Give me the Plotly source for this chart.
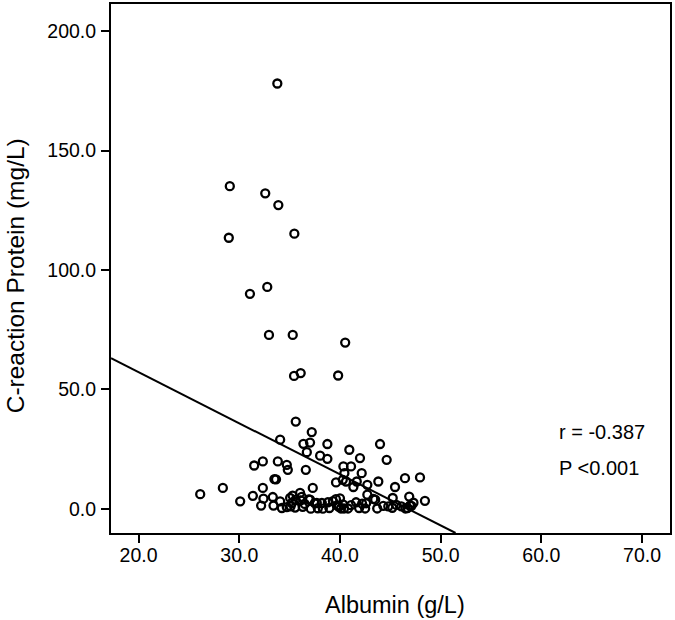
import plotly.graph_objects as go

# Scatter data: Albumin (g/L) vs C-reaction Protein (mg/L)
albumin = [
    33.78, 29.06, 32.58, 33.88, 28.96, 35.47, 31.06, 32.78, 32.95, 35.31, 40.52, 35.44, 36.1, 39.82,
    35.61, 37.2, 34.06, 36.37, 37.03, 36.71, 38.75, 38.03, 38.75, 40.93, 41.99, 43.98, 44.64,
    31.48, 32.34, 33.83, 34.72, 34.82, 36.61,
    40.34, 41.1, 40.44, 42.16, 40.28, 39.61, 40.6, 41.67, 41.33, 42.72, 43.81, 46.46, 47.95, 45.47,
    33.49, 33.65,
    26.12, 28.37, 30.09, 31.35, 32.34, 32.4, 32.17, 33.33, 34.06, 33.4, 34.23, 35.05, 35.22, 36.04,
    36.1, 37.3, 37.03, 37.7, 34.72, 35.55,
    42.72, 43.31, 45.24, 46.88, 48.44, 46.95,
    35.1, 35.6, 36.5, 36.9, 37.1, 37.5, 37.8, 38.2, 38.3, 38.8, 38.95, 39.3, 39.7, 40.0, 40.1, 40.4,
    40.8, 41.1, 41.6, 41.9, 42.2, 42.5, 42.6, 43.5, 43.7, 44.8, 45.2, 45.6, 46.1, 46.5, 46.7, 47.1,
    47.3, 39.6, 39.9, 40.3, 36.3, 44.3, 36.2, 35.3,
]
crp = [
    178.1, 135.1, 132.1, 127.2, 113.5, 115.2, 90.0, 92.9, 72.8, 72.8, 69.6, 55.6, 56.8, 55.8,
    36.5, 32.1, 28.9, 27.2, 27.7, 23.7, 27.1, 22.2, 20.9, 24.7, 21.2, 27.1, 20.5,
    18.1, 19.8, 19.8, 18.4, 16.3, 16.3,
    17.7, 17.7, 14.9, 14.9, 12.1, 11.0, 11.4, 11.4, 9.1, 10.0, 11.4, 12.8, 13.1, 9.1,
    12.4, 12.3,
    6.1, 8.7, 3.1, 5.4, 8.7, 4.2, 1.3, 4.9, 3.1, 1.3, 0.3, 4.5, 2.4, 6.6,
    3.5, 8.7, 3.8, 2.4, 0.7, 0.5,
    5.9, 4.1, 4.5, 5.1, 3.3, 1.3,
    1.0, 3.8, 2.0, 3.9, 0.0, 2.3, 0.2, 2.4, 0.0, 2.7, 0.3, 3.2, 1.4, 4.3, 0.1, 0.1,
    0.1, 1.5, 2.7, 0.3, 2.1, 0.1, 2.3, 3.8, 0.1, 1.0, 0.4, 1.6, 1.0, 0.1, 0.3, 1.2,
    2.5, 4.0, 0.8, 1.8, 0.8, 1.2, 5.0, 5.5,
]

# Fitted regression line endpoints
fit_x = [17.26, 51.48]
fit_y = [63.05, -10.17]

x_ticks = [20, 30, 40, 50, 60, 70]
y_ticks = [0, 50, 100, 150, 200]

stats_text = ["r = -0.387", "P <0.001"]
stats_x = [61.6, 61.6]
stats_y = [32.2, 16.9]

FONT = "Liberation Sans, Arial, sans-serif"

fig = go.Figure()
fig.add_trace(go.Scatter(
    x=fit_x, y=fit_y, mode="lines",
    line=dict(color="black", width=2), showlegend=False, hoverinfo="skip",
))
fig.add_trace(go.Scatter(
    x=albumin, y=crp, mode="markers",
    marker=dict(symbol="circle-open", size=8, color="black", line=dict(width=2.3, color="black")),
    showlegend=False,
))

for t, xx, yy in zip(stats_text, stats_x, stats_y):
    fig.add_annotation(x=xx, y=yy, text=t, showarrow=False, xanchor="left",
                       yanchor="middle", font=dict(family=FONT, size=20, color="black"))

# axis titles
fig.add_annotation(xref="paper", yref="paper", x=0.508, y=-0.1354, text="Albumin (g/L)",
                   showarrow=False, xanchor="center", yanchor="middle",
                   font=dict(family=FONT, size=23.5, color="black"))
fig.add_annotation(xref="paper", yref="paper", x=-0.171, y=0.486, text="C-reaction Protein (mg/L)",
                   showarrow=False, xanchor="center", yanchor="middle", textangle=-90,
                   font=dict(family=FONT, size=24.5, color="black"))

axis_common = dict(
    showline=True, linecolor="black", linewidth=2, mirror=True,
    ticks="outside", ticklen=8, tickwidth=2, tickcolor="black",
    showgrid=False, zeroline=False, automargin=False,
    tickfont=dict(family=FONT, size=19.5, color="black"),
    tickformat=".1f",
)

fig.update_xaxes(range=[17.26, 72.78], tickvals=x_ticks, ticklabelstandoff=-4, **axis_common)
fig.update_yaxes(range=[-10.17, 211.4], tickvals=y_ticks, ticklabelstandoff=1, **axis_common)

fig.update_layout(
    width=675, height=620,
    margin=dict(l=110.7, r=4.7, t=3.7, b=86.7, autoexpand=False),
    plot_bgcolor="white", paper_bgcolor="white",
)

fig.write_html(
    "out.html",
    config={"displayModeBar": False},
    post_script="document.body.style.margin='0px';document.body.style.overflow='hidden';",
)
